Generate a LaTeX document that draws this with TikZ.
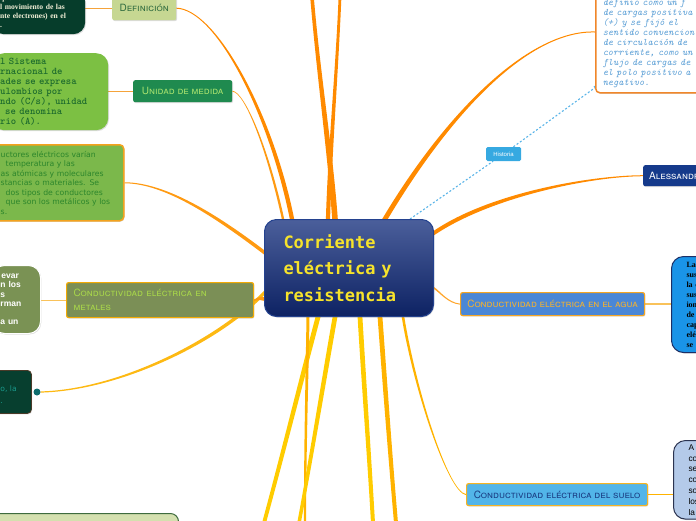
\documentclass[tikz,border=0pt]{standalone}
\usepackage{fontspec}
\usetikzlibrary{shadows,calc,arrows.meta}
\newfontfamily\capsfont{TeX Gyre Heros}[Letters=SmallCaps]
\newfontfamily\ctrfont{DejaVu Sans Mono}
\newfontfamily\dvsans{DejaVu Sans}
\newfontfamily\libsans{Liberation Sans}
\newfontfamily\libserif{Liberation Serif}
\definecolor{ctrtop}{HTML}{4B5F9B}
\definecolor{ctrbot}{HTML}{0D2263}
\definecolor{ctrbd}{HTML}{24428F}
\definecolor{ctrtxt}{HTML}{F6E32B}
\definecolor{defcol}{HTML}{C6D792}
\definecolor{deftxt}{HTML}{2F6B3F}
\definecolor{dgcol}{HTML}{063D2B}
\definecolor{dgtxt}{HTML}{F3F0D8}
\definecolor{unicol}{HTML}{1F8A4F}
\definecolor{unitxt}{HTML}{A8E26E}
\definecolor{lgcol}{HTML}{7CC043}
\definecolor{lgtxt}{HTML}{1D6B2D}
\definecolor{obcol}{HTML}{7BB84B}
\definecolor{obbd}{HTML}{F4A21E}
\definecolor{obtxt}{HTML}{2C862C}
\definecolor{metcol}{HTML}{7B8F56}
\definecolor{metbd}{HTML}{F2AA05}
\definecolor{mettxt}{HTML}{A9D84A}
\definecolor{olcol}{HTML}{7A9254}
\definecolor{dkcol}{HTML}{073F2F}
\definecolor{dkbd}{HTML}{4A3A28}
\definecolor{dktxt}{HTML}{1A9A8C}
\definecolor{dotcol}{HTML}{0E6D6D}
\definecolor{blcol}{HTML}{D4E0AF}
\definecolor{blbd}{HTML}{3E6B3E}
\definecolor{trbd}{HTML}{F0872A}
\definecolor{trtxt}{HTML}{5B9FD6}
\definecolor{histcol}{HTML}{36A9E1}
\definecolor{histline}{HTML}{5AB4E8}
\definecolor{alecol}{HTML}{153A8B}
\definecolor{aguacol}{HTML}{4A87D6}
\definecolor{aguabd}{HTML}{F5A623}
\definecolor{aguatxt}{HTML}{F6B22E}
\definecolor{rbcol}{HTML}{1A94E8}
\definecolor{rbbd}{HTML}{1C2F66}
\definecolor{suelocol}{HTML}{52B5E9}
\definecolor{suelobd}{HTML}{F5B423}
\definecolor{suelotxt}{HTML}{1A3C82}
\definecolor{rlcol}{HTML}{B4CAE9}
\definecolor{rlbd}{HTML}{2B3350}
\definecolor{orgA}{HTML}{FF8A00}
\definecolor{orgB}{HTML}{FF9A12}
\definecolor{orgC}{HTML}{FFA52A}
\definecolor{yelA}{HTML}{FFCC00}
\definecolor{yelB}{HTML}{FDB913}
\definecolor{yelC}{HTML}{FFB300}
\definecolor{thinA}{HTML}{F5A33A}
\definecolor{thinB}{HTML}{F9C25A}
\pgfdeclarelayer{bg}
\pgfsetlayers{bg,main}
% tapered connector: start, startshiftkey, startwidth, c1, c2, end, endshiftkey, endwidth, colour
\newcommand\tap[9]{\fill[#9] ([#2={-(#3)}]#1) .. controls ([#2={-(#3)}]#4) and ([#7={-(#8)}]#5) .. ([#7={-(#8)}]#6) -- ([#7={#8}]#6) .. controls ([#7={#8}]#5) and ([#2={#3}]#4) .. ([#2={#3}]#1) -- cycle;}
\begin{document}
\begin{tikzpicture}[x=1pt,y=-1pt,
  shad/.style={drop shadow={opacity=0.28,shadow xshift=0.8pt,shadow yshift=-1pt}},
  lbl/.style={shad, rounded corners=2pt, inner sep=0pt, anchor=north west, font=\capsfont\fontsize{10}{12}\selectfont},
  tbox/.style={shad, rounded corners=12pt, anchor=north west, align=left, inner ysep=0pt},
  thinc/.style={draw=thinA, line width=1pt},
  hdash/.style={draw=histline, line width=1.1pt, dash pattern=on 2pt off 2pt}]
\useasboundingbox (0,0) rectangle (696,520);
\clip (0,0) rectangle (696,520);

% central node
\node[draw=ctrbd, line width=1pt, rounded corners=12pt, top color=ctrtop, bottom color=ctrbot, anchor=north west, inner xsep=19pt, inner ysep=0pt, text width=131pt, minimum height=97pt, align=left, text=ctrtxt, font=\ctrfont\bfseries\fontsize{17}{26.5}\selectfont, shad] (ctr) at (264,219) {Corriente\\eléctrica y\\resistencia};

% left side
\node[tbox, fill=dgcol, text=dgtxt, font=\libserif\bfseries\fontsize{7.6}{9.3}\selectfont, inner xsep=8pt, text width=77pt, minimum height=44pt] (dg) at (-8,-10) {que recorre un\\l movimiento de las\\nte electrones) en el\\.};
\node[lbl, fill=defcol, text=deftxt, minimum width=64pt, minimum height=24pt] (def) at (112,-4) {Definición};

\node[tbox, fill=lgcol, text=lgtxt, font=\ttfamily\bfseries\fontsize{10.2}{10}\selectfont, inner xsep=8pt, text width=100pt, minimum height=77pt] (lg) at (-8,53) {l Sistema\\rnacional de\\ades se expresa\\ulombios por\\ndo (C/s), unidad\\\hspace*{5pt}se denomina\\rio (A).};
\node[lbl, fill=unicol, text=unitxt, minimum width=99pt, minimum height=22pt] (uni) at (133,80) {Unidad de medida};

\node[tbox, rounded corners=4pt, fill=obcol, draw=obbd, line width=1.5pt, text=obtxt, font=\dvsans\fontsize{7.7}{9.5}\selectfont, inner xsep=8pt, text width=115pt, minimum height=76pt] (ob) at (-8,144) {uctores eléctricos varían\\\hspace*{5pt}temperatura y las\\as atómicas y moleculares\\stancias o materiales. Se\\\hspace*{5pt}dos tipos de conductores\\\hspace*{5pt}que son los metálicos y los\\s.};

\node[tbox, fill=olcol, draw=white, line width=1pt, text=white, font=\libsans\bfseries\fontsize{8.5}{9.2}\selectfont, inner xsep=8pt, text width=32pt, minimum height=68pt] (ol) at (-8,265) {\hspace*{1pt}evar\\n los\\s\\rman\\\mbox{}\\a un};
\node[lbl, fill=metcol, draw=metbd, line width=1.2pt, text=mettxt, minimum width=187pt, minimum height=35pt, align=left, inner xsep=7pt, text width=173pt, font=\capsfont\fontsize{10}{14}\selectfont] (met) at (66,282) {Conductividad eléctrica en\\metales};

\node[tbox, rounded corners=4pt, fill=dkcol, draw=dkbd, line width=0.8pt, text=dktxt, font=\dvsans\fontsize{7.6}{12}\selectfont, inner xsep=8pt, text width=23pt, minimum height=43pt] (dk) at (-8,370) {\mbox{}\\o, la\\.};
\node[circle, fill=dotcol, minimum size=7pt, inner sep=0pt] (dot) at (37,392) {};

\node[tbox, rounded corners=8pt, fill=blcol, draw=blbd, line width=1pt, minimum width=186pt, minimum height=40pt, inner sep=0pt] (bl) at (-8,513) {};

% right side
\node[tbox, rounded corners=4pt, fill=white, draw=trbd, line width=1.5pt, text=trtxt, font=\ttfamily\itshape\fontsize{9.9}{10}\selectfont, inner xsep=7pt, text width=116pt, minimum height=98pt] (tr) at (595,-6) {definió como un f\\de cargas positiva\\(+) y se fijó el\\sentido convencion\\de circulación de\\corriente, como un\\flujo de cargas de\\el polo positivo a\\negativo.};

\node[fill=histcol, text=white, rounded corners=1.5pt, minimum width=35pt, minimum height=14pt, inner sep=0pt, font=\libsans\fontsize{6}{7}\selectfont] (hist) at (503.5,154) {Historia};

\node[lbl, fill=alecol, text=white, minimum width=80pt, minimum height=21pt, align=left, inner xsep=6pt, text width=68pt] (ale) at (643,165) {Alessandr};

\node[lbl, fill=aguacol, draw=aguabd, line width=1.2pt, text=aguatxt, minimum width=184pt, minimum height=23pt] (agua) at (460,292) {Conductividad eléctrica en el agua};
\node[tbox, fill=rbcol, draw=rbbd, line width=1pt, text=black, font=\libserif\bfseries\fontsize{8}{10}\selectfont, inner xsep=15pt, text width=30pt, minimum height=96pt] (rb) at (671,256) {La\\sus\\la c\\sus\\ion\\de\\cap\\elé\\se e};

\node[lbl, fill=suelocol, draw=suelobd, line width=1.2pt, text=suelotxt, minimum width=181pt, minimum height=22pt] (suelo) at (466,483) {Conductividad eléctrica del suelo};
\node[tbox, fill=rlcol, draw=rlbd, line width=1pt, text=black, font=\libsans\fontsize{8.3}{10.8}\selectfont, inner xsep=15pt, inner ysep=4pt, text width=30pt] (rl) at (673,440) {A\\co\\se\\co\\so\\los\\la};

% anchor points on the central node
\coordinate (cT1) at ($(ctr.north west)+(19,0)$);
\coordinate (cT2) at ($(ctr.north west)+(28,0)$);
\coordinate (cT3) at ($(ctr.north west)+(71,0)$);
\coordinate (cT4) at ($(ctr.north west)+(64,0)$);
\coordinate (cT5) at ($(ctr.north west)+(121,0)$);
\coordinate (cT6) at ($(ctr.north west)+(146,0)$);
\coordinate (cW1) at ($(ctr.north west)+(1,34)$);
\coordinate (cW2) at ($(ctr.north west)+(1,73)$);
\coordinate (cW3) at ($(ctr.south west)+(0,-18)$);
\coordinate (cE1) at ($(ctr.north east)+(0,14)$);
\coordinate (cE2) at ($(ctr.north east)+(0,69)$);
\coordinate (cS1) at ($(ctr.south west)+(54,0)$);
\coordinate (cS2) at ($(ctr.south west)+(44,0)$);
\coordinate (cS3) at ($(ctr.south west)+(71,0)$);
\coordinate (cS4) at ($(ctr.south west)+(96,0)$);
\coordinate (cS5) at ($(ctr.south west)+(116,0)$);
\coordinate (cS6) at ($(ctr.south west)+(139,0)$);
% free ends of off-picture branches
\coordinate (topA) at (312,-3);
\coordinate (topB) at (340,-3);
\coordinate (botA) at (264,523);
\coordinate (botB) at (305,523);
\coordinate (botC) at (299,523);
\coordinate (botD) at (373,523);
\coordinate (botE) at (396,523);
\coordinate (trpt) at ($(tr.north west)+(0,38)$);
\coordinate (obpt) at (ob.east);
\coordinate (trarr) at ($(tr.south west)+(3,-8)$);

\begin{pgfonlayer}{bg}
\draw[thinc] (dg.east |- def.west) -- (def.west);
\draw[thinc] (lg.east |- uni.west) -- (uni.west);
\draw[draw=thinB, line width=1pt] (ol.east |- met.west) -- (met.west);
\draw[draw=thinB, line width=1.5pt] (agua.east) -- (agua.east -| rb.west);
\draw[draw=yelC, line width=1.2pt] (suelo.east) -- (suelo.east -| rl.west);

\tap{def.east}{yshift}{0.5pt}{215,9}{270,110}{cT2}{xshift}{2.2pt}{orgA}
\tap{uni.east}{yshift}{0.4pt}{245,92}{268,150}{cT1}{xshift}{1.2pt}{orgB}
\tap{obpt}{yshift}{0.5pt}{165,183}{215,215}{cW1}{yshift}{2.2pt}{orgB}
\tap{dot.east}{yshift}{0.6pt}{120,390}{220,340}{cW2}{yshift}{2.3pt}{yelB}
\tap{met.east}{yshift}{0.8pt}{257,299}{260,298}{cW3}{yshift}{1.8pt}{orgB}
\tap{topA}{xshift}{1.8pt}{318,70}{330,150}{cT3}{xshift}{2.8pt}{orgA}
\tap{topB}{xshift}{1.4pt}{337,70}{330,150}{cT4}{xshift}{2.1pt}{orgA}
\tap{trpt}{yshift}{0.5pt}{530,30}{450,110}{cT5}{xshift}{-2.8pt}{orgA}
\tap{ale.west}{yshift}{0.5pt}{590,176}{490,195}{cE1}{yshift}{2.3pt}{orgA}
\tap{agua.west}{yshift}{0.5pt}{448,303}{440,292}{cE2}{yshift}{1pt}{orgC}
\tap{suelo.west}{yshift}{0.5pt}{448,492}{415,390}{cS6}{xshift}{1.3pt}{yelC}
\tap{botA}{xshift}{2pt}{283,453}{300,385}{cS1}{xshift}{2.5pt}{yelA}
\tap{botB}{xshift}{1.1pt}{305,450}{307,380}{cS2}{xshift}{1.5pt}{yelC}
\tap{botC}{xshift}{1.8pt}{312,453}{323,385}{cS3}{xshift}{2.4pt}{yelA}
\tap{botD}{xshift}{2pt}{369,453}{364,385}{cS4}{xshift}{2.4pt}{yelA}
\tap{botE}{xshift}{2pt}{390,453}{385,385}{cS5}{xshift}{2.4pt}{yelC}

\draw[hdash] (cT6) -- (hist);
\draw[hdash, -{Triangle[length=4pt,width=4pt]}] (hist) -- (trarr);
\end{pgfonlayer}
\end{tikzpicture}
\end{document}
